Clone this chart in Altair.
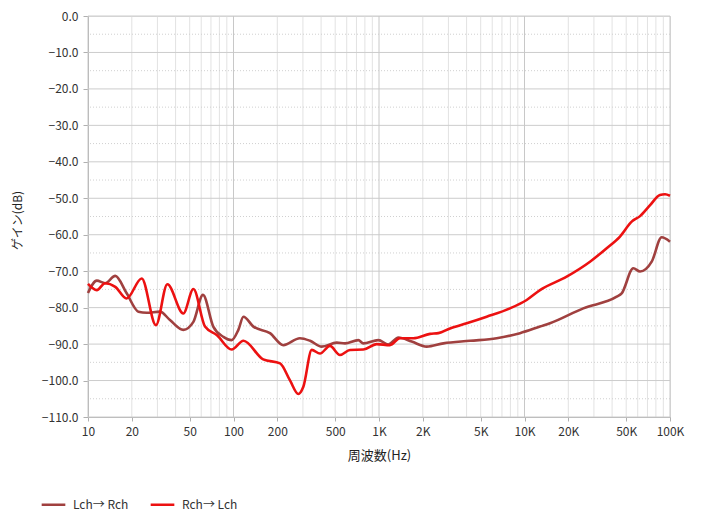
import altair as alt
import pandas as pd

# ---- data ----
lr_freq = [10, 11.5, 13.1, 15.4, 18.4, 22.2, 25.3, 31.2, 36.6, 45.2, 53, 61.7, 72.6, 85.2,
           97.2, 108, 117, 137, 178, 220, 286, 336, 404, 512, 584, 721, 780, 989, 1159,
           1359, 1677, 2127, 2770, 4222, 6440, 9311, 12780, 14970, 25360, 43030, 46540,
           55950, 62250, 74860, 87650, 100000]
lr_db = [-76, -72.6, -73.3, -71.3, -76, -81.1, -81.4, -81.1, -83.4, -86.1, -83.9, -76.5,
         -85.2, -88, -88.9, -86.1, -82.5, -85.2, -87, -90.3, -88.4, -89.1, -90.7, -89.6,
         -89.8, -88.9, -89.8, -88.9, -90.1, -88.2, -89.3, -90.7, -89.8, -89.1, -88.4, -87,
         -85.2, -84.3, -80.2, -77, -76.1, -69.2, -70.1, -67.4, -60.7, -61.9]

rl_freq = [10, 11.5, 13.1, 15.4, 18.4, 23.4, 29.3, 35.1, 45.2, 53, 63.7, 76.7, 97.2, 117,
           160, 209, 244, 279, 302, 345, 393, 460, 539, 632, 780, 964, 1190, 1394, 1721,
           2243, 2559, 3078, 4006, 5495, 7946, 10350, 12780, 19490, 28190, 36720, 45310,
           54540, 62250, 72940, 85310, 92470, 100000]
rl_db = [-73.5, -75.2, -73.3, -74.3, -77.5, -72, -84.8, -73.6, -81.6, -74.9, -85.2, -87.5,
         -91.5, -89.1, -94.2, -95.3, -99.9, -103.7, -101.7, -91.6, -92.6, -90.5, -93, -91.6,
         -91.5, -90, -90.3, -88.4, -88.4, -87.2, -87, -85.7, -84.3, -82.5, -80.2, -77.9,
         -75.2, -71.5, -67.4, -63.7, -60.5, -56.4, -54.9, -51.9, -49.1, -48.9, -49.3]

series_names = ["Lch→ Rch", "Rch→ Lch"]
series_colors = ["#a0403f", "#ec1111"]

x_labels = [10, 20, 50, 100, 200, 500, 1000, 2000, 5000, 10000, 20000, 50000, 100000]
x_major = [10, 100, 1000, 10000, 100000]
x_minor = [m * d for d in [10, 100, 1000, 10000] for m in range(2, 10)]
y_ticks = list(range(-110, 1, 10))
y_dotted = list(range(-105, 0, 10))

FONT = "Noto Sans CJK JP"

df = pd.concat([
    pd.DataFrame({"freq": lr_freq, "db": lr_db, "series": series_names[0], "order": range(len(lr_freq))}),
    pd.DataFrame({"freq": rl_freq, "db": rl_db, "series": series_names[1], "order": range(len(rl_freq))}),
])

xscale = alt.Scale(type="log", domain=[10, 100000], nice=False)
yscale = alt.Scale(domain=[-110, 0], nice=False, zero=False)

xaxis = alt.Axis(values=x_labels, title="周波数(Hz)", grid=False, labelFlush=False,
                 labelExpr="datum.value >= 1000 ? (datum.value/1000) + 'K' : datum.value",
                 labelFont=FONT, labelFontSize=12, labelColor="#333333",
                 titleFont=FONT, titleFontSize=13, titleFontWeight="normal", titleColor="#222222",
                 domainColor="#b0b0b0", tickColor="#b0b0b0", tickSize=4, labelPadding=5,
                 titlePadding=12)
yaxis = alt.Axis(values=y_ticks, format=".1f", title="ゲイン(dB)", grid=False,
                 labelFont=FONT, labelFontSize=12, labelColor="#333333",
                 titleFont=FONT, titleFontSize=12, titleFontWeight="normal", titleColor="#222222",
                 domainColor="#b0b0b0", tickColor="#b0b0b0", tickSize=5, labelPadding=5,
                 titlePadding=17, titleY=204)

minor_v = alt.Chart(pd.DataFrame({"f": x_minor})).mark_rule(color="#e2e2e2", strokeWidth=1).encode(
    x=alt.X("f:Q", scale=xscale, axis=xaxis))
major_v = alt.Chart(pd.DataFrame({"f": x_major})).mark_rule(color="#c8c8c8", strokeWidth=1).encode(
    x=alt.X("f:Q", scale=xscale, axis=xaxis))
dotted_h = alt.Chart(pd.DataFrame({"v": y_dotted})).mark_rule(color="#d0d0d0", strokeWidth=1, strokeDash=[1, 2]).encode(
    y=alt.Y("v:Q", scale=yscale, axis=yaxis))
major_h = alt.Chart(pd.DataFrame({"v": y_ticks})).mark_rule(color="#cccccc", strokeWidth=1).encode(
    y=alt.Y("v:Q", scale=yscale, axis=yaxis))

lines = alt.Chart(df).mark_line(interpolate="monotone", strokeWidth=2.6).encode(
    x=alt.X("freq:Q", scale=xscale, axis=xaxis),
    y=alt.Y("db:Q", scale=yscale, axis=yaxis),
    color=alt.Color("series:N", scale=alt.Scale(domain=series_names, range=series_colors),
                    legend=alt.Legend(title=None, orient="none", legendX=-48, legendY=475,
                                      direction="horizontal", symbolType="stroke",
                                      symbolStrokeWidth=2.5, symbolSize=560,
                                      labelFont=FONT, labelFontSize=12, labelColor="#333333",
                                      columnPadding=16, labelOffset=6)),
    order="order:Q",
)

chart = alt.layer(minor_v, dotted_h, major_h, major_v, lines).properties(
    width=582, height=401,
    autosize=alt.AutoSizeParams(type="none"),
    padding={"left": 80, "top": 8, "right": 24, "bottom": 96},
).configure_view(stroke="#b0b0b0").configure(background="white")

chart.save("out.html", embed_options={"renderer": "svg", "actions": False})
